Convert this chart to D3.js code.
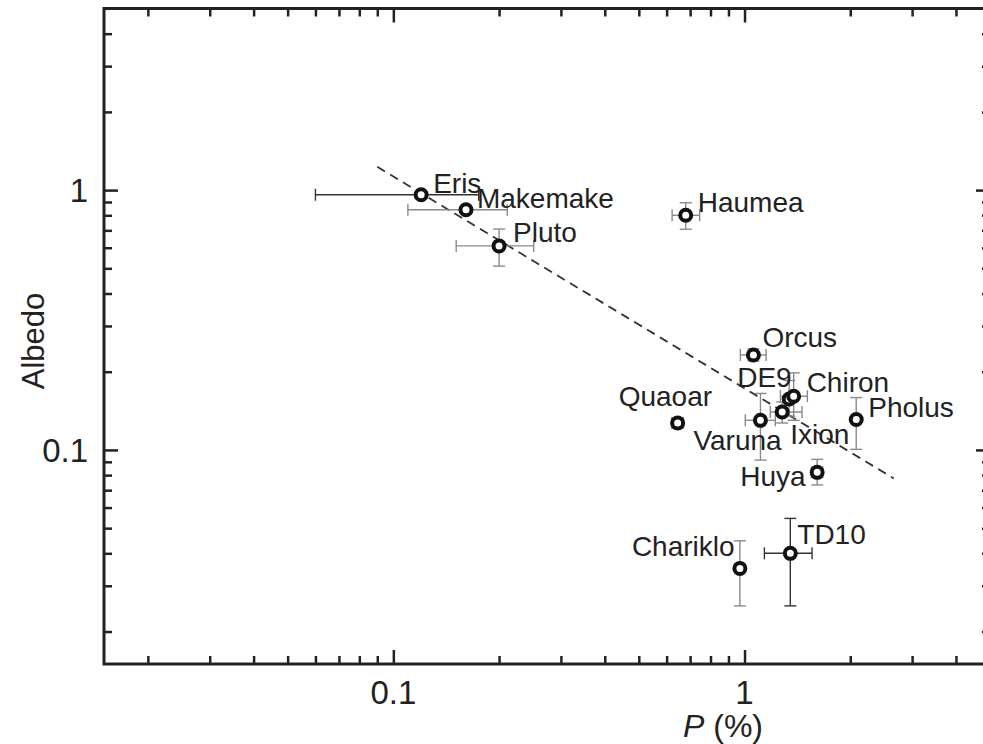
<!DOCTYPE html>
<html>
<head>
<meta charset="utf-8">
<script src="https://cdn.jsdelivr.net/npm/d3@7"></script>
<style>
  body { margin: 0; background: #fff; }
  svg { font-family: "Liberation Sans", Arial, Helvetica, sans-serif; }
</style>
</head>
<body>
<svg width="983" height="744"></svg>
<script>
// Data
const names   = ["Eris", "Makemake", "Pluto", "Haumea", "Orcus", "DE9", "Chiron", "Quaoar", "Pholus", "Varuna", "Ixion", "Huya", "Chariklo", "TD10"];
const pol     = [0.12, 0.161, 0.200, 0.68, 1.06, 1.34, 1.38, 0.645, 2.08, 1.11, 1.28, 1.61, 0.97, 1.35];
const albedo  = [0.96, 0.84, 0.61, 0.80, 0.232, 0.157, 0.161, 0.127, 0.131, 0.130, 0.140, 0.082, 0.035, 0.040];
const polLo   = [0.060, 0.110, 0.151, 0.622, 0.973, null, 1.265, 0.62, null, 1.005, 1.184, 1.55, null, 1.139];
const polHi   = [0.175, 0.211, 0.251, 0.745, 1.152, null, 1.51, 0.67, null, 1.224, 1.458, 1.67, null, 1.557];
const albLo   = [null, null, 0.51, 0.707, 0.22, 0.135, 0.130, 0.121, 0.1005, 0.0914, 0.127, 0.0733, 0.0251, 0.0251];
const albHi   = [null, null, 0.708, 0.894, 0.245, 0.185, 0.198, 0.133, 0.159, 0.165, 0.153, 0.092, 0.0447, 0.0545];

// Dashed fit line end points
const fitP = [0.090, 2.66];
const fitA = [1.23, 0.0777];

// Axis ticks
const xMajor = [0.1, 1];
const xMinor = [0.02, 0.03, 0.04, 0.05, 0.06, 0.07, 0.08, 0.09, 0.2, 0.3, 0.4, 0.5, 0.6, 0.7, 0.8, 0.9, 2, 3, 4];
const yMajor = [0.1, 1];
const yMinor = [0.02, 0.03, 0.04, 0.05, 0.06, 0.07, 0.08, 0.09, 0.2, 0.3, 0.4, 0.5, 0.6, 0.7, 0.8, 0.9, 2, 3, 4];

// Label placement relative to each point (px) - layout only
const labelOffset = {
  Eris: [12, -2], Makemake: [11, -2], Pluto: [14, -4], Haumea: [12, -3],
  Orcus: [9, -8], DE9: [-52, -12], Chiron: [13, -4], Quaoar: [-59, -17],
  Pholus: [12, -2], Varuna: [-67, 30], Ixion: [8, 32], Huya: [-77, 14],
  Chariklo: [-108, -12], TD10: [7, -9]
};
const darkErr = new Set(["Eris", "TD10"]);

const svg = d3.select("svg");
const plotL = 104, plotR = 990, plotT = 8.5, plotB = 664;

const x = d3.scaleLog().domain([0.015, 5]).range([plotL, plotR]);
const y = d3.scaleLog().domain([0.015, 5]).range([plotB, plotT]);

//   Frame ticks (all pointing inwards)
const frame = svg.append("g").attr("class", "frame");
const tickW = 2.5;

function addAxis(axisFn, scale, vals, size, transform) {
  const g = frame.append("g")
    .attr("transform", transform)
    .call(axisFn(scale).tickValues(vals).tickSize(size).tickSizeOuter(0).tickFormat(""));
  g.select(".domain").remove();
  g.selectAll("line").attr("stroke", "#222").attr("stroke-width", tickW);
}

addAxis(d3.axisBottom, x, xMinor, -8, `translate(0,${plotB})`);
addAxis(d3.axisBottom, x, xMajor, -14, `translate(0,${plotB})`);
addAxis(d3.axisTop, x, xMinor, -8, `translate(0,${plotT})`);
addAxis(d3.axisTop, x, xMajor, -14, `translate(0,${plotT})`);
addAxis(d3.axisLeft, y, yMinor, -8, `translate(${plotL},0)`);
addAxis(d3.axisLeft, y, yMajor, -14, `translate(${plotL},0)`);
addAxis(d3.axisRight, y, yMinor, -8, `translate(${plotR},0)`);
addAxis(d3.axisRight, y, yMajor, -14, `translate(${plotR},0)`);

frame.append("rect")
  .attr("x", plotL).attr("y", plotT)
  .attr("width", plotR - plotL).attr("height", plotB - plotT)
  .attr("fill", "none").attr("stroke", "#222").attr("stroke-width", 3);

// Tick labels
svg.append("g").selectAll("text")
  .data(xMajor).enter().append("text")
  .attr("x", d => x(d)).attr("y", plotB + 40)
  .attr("text-anchor", "middle")
  .attr("font-size", 33).attr("fill", "#222")
  .text(d => d);

svg.append("g").selectAll("text")
  .data(yMajor).enter().append("text")
  .attr("x", plotL - 16).attr("y", d => y(d) + 12)
  .attr("text-anchor", "end")
  .attr("font-size", 33).attr("fill", "#222")
  .text(d => d);

// Axis titles
const xt = svg.append("text")
  .attr("x", 723).attr("y", 737)
  .attr("text-anchor", "middle")
  .attr("font-size", 32).attr("fill", "#222");
xt.append("tspan").attr("font-style", "italic").text("P");
xt.append("tspan").text(" (%)");

svg.append("text")
  .attr("transform", `translate(44,341) rotate(-90)`)
  .attr("text-anchor", "middle")
  .attr("font-size", 31).attr("fill", "#222")
  .text("Albedo");

// Dashed fit line
svg.append("line")
  .attr("x1", x(fitP[0])).attr("y1", y(fitA[0]))
  .attr("x2", x(fitP[1])).attr("y2", y(fitA[1]))
  .attr("stroke", "#333").attr("stroke-width", 1.8)
  .attr("stroke-dasharray", "9,6");

// Error bars
const idx = d3.range(names.length);
const errs = svg.append("g");
const cap = 6;
idx.forEach(i => {
  const col = darkErr.has(names[i]) ? "#333" : "#8a8a8a";
  const cx = x(pol[i]), cy = y(albedo[i]);
  if (polLo[i] != null) {
    errs.append("line").attr("x1", x(polLo[i])).attr("x2", x(polHi[i])).attr("y1", cy).attr("y2", cy)
      .attr("stroke", col).attr("stroke-width", 1.4);
    [polLo[i], polHi[i]].forEach(v => errs.append("line")
      .attr("x1", x(v)).attr("x2", x(v)).attr("y1", cy - cap).attr("y2", cy + cap)
      .attr("stroke", col).attr("stroke-width", 1.4));
  }
  if (albLo[i] != null) {
    errs.append("line").attr("x1", cx).attr("x2", cx).attr("y1", y(albLo[i])).attr("y2", y(albHi[i]))
      .attr("stroke", col).attr("stroke-width", 1.4);
    [albLo[i], albHi[i]].forEach(v => errs.append("line")
      .attr("x1", cx - cap).attr("x2", cx + cap).attr("y1", y(v)).attr("y2", y(v))
      .attr("stroke", col).attr("stroke-width", 1.4));
  }
});

// Points
svg.append("g").selectAll("circle")
  .data(idx).enter().append("circle")
  .attr("cx", i => x(pol[i]))
  .attr("cy", i => y(albedo[i]))
  .attr("r", 5.5)
  .attr("fill", "#fff")
  .attr("stroke", "#111")
  .attr("stroke-width", 4);

// Point labels
svg.append("g").selectAll("text")
  .data(idx).enter().append("text")
  .attr("x", i => x(pol[i]) + labelOffset[names[i]][0])
  .attr("y", i => y(albedo[i]) + labelOffset[names[i]][1])
  .attr("font-size", 28)
  .attr("fill", "#222")
  .text(i => names[i]);
</script>
</body>
</html>
